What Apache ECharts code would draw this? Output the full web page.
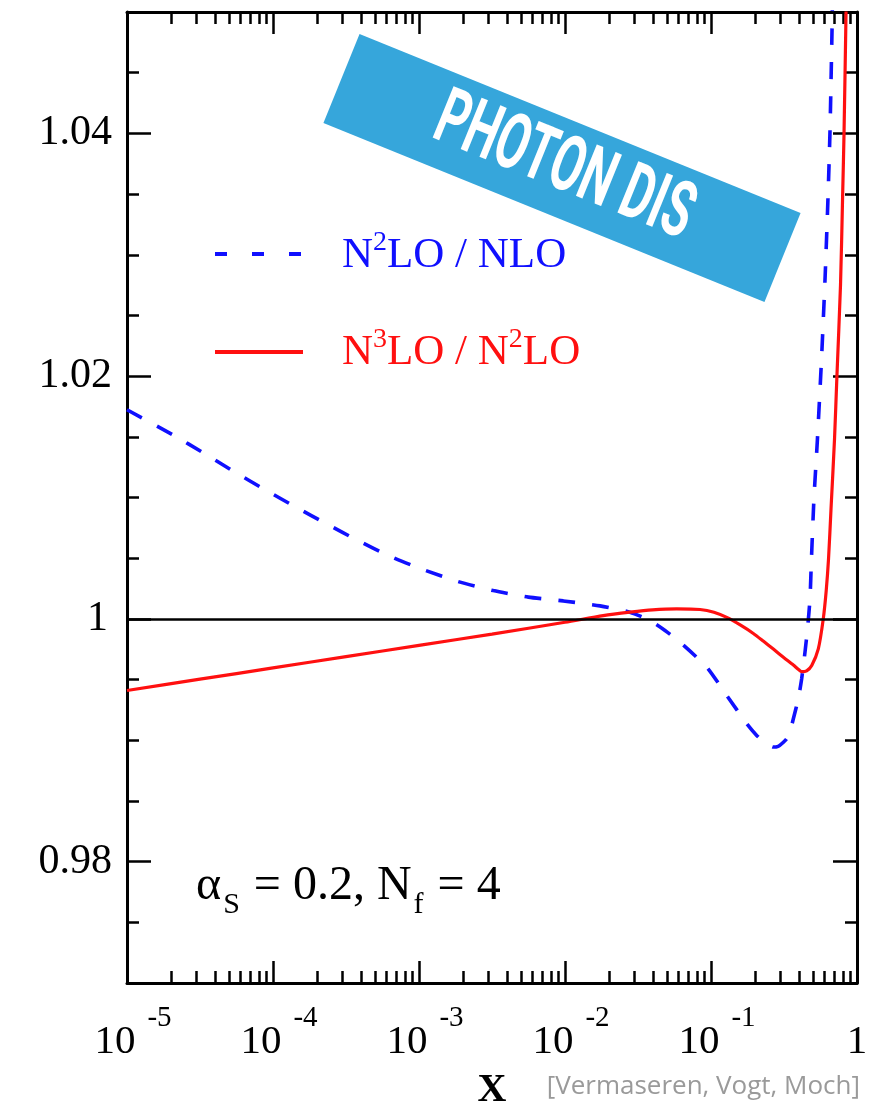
<!DOCTYPE html>
<html>
<head>
<meta charset="utf-8">
<script src="https://cdn.jsdelivr.net/npm/echarts@6/dist/echarts.min.js"></script>
<style>
  html, body { margin: 0; padding: 0; background: #ffffff; }
  #chart { width: 883px; height: 1104px; }
</style>
</head>
<body>
<div id="chart"></div>
<script>
// x is stored as log10(x); the axis runs over the exponent from -5 to 0.
const nloLogX = [-5.000, -4.683, -4.477, -4.272, -4.066, -3.849, -3.632, -3.416, -3.199, -2.971,
  -2.731, -2.491, -2.251, -2.012, -1.760, -1.555, -1.418, -1.315, -1.212, -1.029,
  -0.892, -0.755, -0.687, -0.630, -0.573, -0.540, -0.516, -0.482, -0.455, -0.436,
  -0.402, -0.379, -0.356, -0.339, -0.322, -0.312, -0.295, -0.271, -0.243, -0.219,
  -0.199, -0.185, -0.171, -0.168];
const nloRatio = [1.01723, 1.01514, 1.01368, 1.01217, 1.01072, 1.00924, 1.00782, 1.00644, 1.00516, 1.00406,
  1.00307, 1.00233, 1.00179, 1.00148, 1.00107, 1.00055, 0.99986, 0.99904, 0.99808, 0.99602,
  0.99369, 0.99136, 0.99040, 0.98980, 0.98944, 0.98950, 0.98971, 0.99012, 0.99090, 0.99177,
  0.99342, 0.99506, 0.99728, 0.99918, 1.00165, 1.00494, 1.00988, 1.01481, 1.02140, 1.02798,
  1.03457, 1.04016, 1.04856, 1.05100];

const n3loLogX = [-5.000, -4.500, -4.000, -3.500, -3.000, -2.500, -2.000, -1.738, -1.555, -1.400,
  -1.235, -1.075, -0.980, -0.892, -0.800, -0.710, -0.640, -0.573, -0.500, -0.436,
  -0.400, -0.379, -0.345, -0.310, -0.265, -0.231, -0.211, -0.195, -0.178, -0.154,
  -0.137, -0.113, -0.099, -0.089, -0.075];
const n3loRatio = [0.99410, 0.99503, 0.99596, 0.99689, 0.99782, 0.99875, 0.99972, 1.00027, 1.00055, 1.00074,
  1.00082, 1.00077, 1.00055, 1.00012, 0.99950, 0.99880, 0.99815, 0.99751, 0.99680, 0.99620,
  0.99582, 0.99565, 0.99572, 0.99616, 0.99753, 1.00000, 1.00230, 1.00494, 1.00905, 1.01481,
  1.02016, 1.02749, 1.03457, 1.03992, 1.05004];

const xDecadeExponents = [-5, -4, -3, -2, -1, 0];
const yLabelValues = [0.98, 1.00, 1.02, 1.04];
const yRange = [0.97, 1.05];
const referenceLevel = 1;

const SERIF = '"Liberation Serif", "Times New Roman", serif';
const BLUE = '#1010ff';
const RED = '#ff1010';

// minor ticks at 2..9 x 10^n, expressed in log10 units
const xMinorTicks = [];
for (let d = xDecadeExponents[0]; d < xDecadeExponents[xDecadeExponents.length - 1]; d++) {
  for (let k = 2; k <= 9; k++) xMinorTicks.push(d + Math.log10(k));
}

const zip = (xs, ys) => xs.map((x, i) => [x, ys[i]]);

const frameLine = { show: true, onZero: false, lineStyle: { color: '#000', width: 3 } };
const noLine = { show: false, onZero: false };

function xAxisDef(position, major, showLabels) {
  return {
    type: 'value', position: position, gridIndex: 0,
    min: xDecadeExponents[0], max: xDecadeExponents[xDecadeExponents.length - 1], interval: 1,
    axisLine: major ? frameLine : noLine,
    splitLine: { show: false },
    axisTick: major
      ? { show: true, inside: true, length: 22, lineStyle: { color: '#000', width: 2.5 } }
      : { show: true, inside: true, length: 12, customValues: xMinorTicks, lineStyle: { color: '#000', width: 2.5 } },
    axisLabel: showLabels ? {
      show: true, margin: 20,
      formatter: v => (v === 0 ? '{one|1}' : '{b|10}{s|' + v + '}'),
      rich: {
        b: { fontFamily: SERIF, fontSize: 41, color: '#000', verticalAlign: 'top', padding: [19, 0, 0, 12] },
        one: { fontFamily: SERIF, fontSize: 41, color: '#000', verticalAlign: 'top', padding: [19, 0, 0, 0] },
        s: { fontFamily: SERIF, fontSize: 29, color: '#000', verticalAlign: 'top', padding: [1, 0, 0, 12] }
      }
    } : { show: false },
    name: showLabels ? 'X' : '',
    nameLocation: 'middle', nameGap: 88,
    nameTextStyle: { fontFamily: SERIF, fontWeight: 'bold', fontSize: 40, color: '#000' }
  };
}

function yAxisDef(position, major, showLabels) {
  return {
    type: 'value', position: position, gridIndex: 0,
    min: yRange[0], max: yRange[1], interval: 0.005,
    axisLine: major ? noLine : frameLine,
    splitLine: { show: false },
    axisTick: major
      ? { show: true, inside: true, length: 24, customValues: yLabelValues, lineStyle: { color: '#000', width: 2.5 } }
      : { show: true, inside: true, length: 12, lineStyle: { color: '#000', width: 2.5 } },
    axisLabel: showLabels ? {
      show: true, margin: 15, customValues: yLabelValues,
      formatter: v => (Math.abs(v - 1) < 1e-9 ? '{one|1}' : '{t|' + v.toFixed(2) + '}'),
      rich: {
        t: { fontFamily: SERIF, fontSize: 42, color: '#000' },
        one: { fontFamily: SERIF, fontSize: 42, color: '#000', padding: [0, 4, 0, 0] }
      }
    } : { show: false }
  };
}

const legendRich = {
  n: { fontFamily: SERIF, fontSize: 43, verticalAlign: 'top', padding: [5, 0, 0, 0] },
  s: { fontFamily: SERIF, fontSize: 28, verticalAlign: 'top' }
};

const option = {
  animation: false,
  backgroundColor: '#ffffff',
  grid: { left: 127, right: 26, top: 12, bottom: 121, containLabel: false, outerBoundsMode: 'none' },
  xAxis: [
    xAxisDef('bottom', true, true),
    xAxisDef('bottom', false, false),
    xAxisDef('top', true, false),
    xAxisDef('top', false, false)
  ],
  yAxis: [
    yAxisDef('left', false, true),
    yAxisDef('left', true, false),
    yAxisDef('right', false, false),
    yAxisDef('right', true, false)
  ],
  series: [
    {
      name: 'N2LO/NLO', type: 'line', xAxisIndex: 0, yAxisIndex: 0,
      data: zip(nloLogX, nloRatio),
      symbol: 'none', showSymbol: false, smooth: 0.2, clip: true, z: 3,
      lineStyle: { color: BLUE, width: 3.6, type: [17, 17], cap: 'butt' }
    },
    {
      name: 'N3LO/N2LO', type: 'line', xAxisIndex: 0, yAxisIndex: 0,
      data: zip(n3loLogX, n3loRatio),
      symbol: 'none', showSymbol: false, smooth: 0.25, clip: true, z: 4,
      lineStyle: { color: RED, width: 3.2 },
      markLine: {
        silent: true, symbol: 'none', animation: false,
        label: { show: false },
        lineStyle: { color: '#000', width: 2.6, type: 'solid' },
        data: [{ yAxis: referenceLevel }]
      }
    }
  ],
  graphic: [
    // banner
    {
      type: 'group', x: 562, y: 168, rotation: -22.1 * Math.PI / 180, z: 10,
      children: [
        { type: 'rect', shape: { x: -238, y: -48, width: 476, height: 96 }, style: { fill: '#36A6DB' } },
        {
          type: 'text', x: 2, y: 1, scaleX: 0.6,
          style: { text: 'PHOTON DIS', fontFamily: 'Roboto', fontWeight: 'bold', fontSize: 78, fill: '#ffffff', align: 'center', verticalAlign: 'middle' }
        }
      ]
    },
    // legend keys
    { type: 'line', shape: { x1: 215, y1: 254, x2: 303, y2: 254 }, style: { stroke: BLUE, lineWidth: 4, lineDash: [12, 25] }, z: 10 },
    { type: 'line', shape: { x1: 215, y1: 352, x2: 303, y2: 352 }, style: { stroke: RED, lineWidth: 4 }, z: 10 },
    {
      type: 'text', x: 342, y: 229, z: 10,
      style: { text: '{n|N}{s|2}{n|LO / NLO}', rich: legendRich, fill: BLUE, align: 'left', verticalAlign: 'top' }
    },
    {
      type: 'text', x: 342, y: 326, z: 10,
      style: { text: '{n|N}{s|3}{n|LO / N}{s|2}{n|LO}', rich: legendRich, fill: RED, align: 'left', verticalAlign: 'top' }
    },
    // parameters
    {
      type: 'text', x: 196, y: 862, z: 10,
      style: {
        text: '{a|α}{b|S}{a| = 0.2, N}{b|f}{a| = 4}', fill: '#000', align: 'left', verticalAlign: 'top',
        rich: {
          a: { fontFamily: SERIF, fontSize: 48, verticalAlign: 'top' },
          b: { fontFamily: SERIF, fontSize: 30, verticalAlign: 'top', padding: [28, 2, 0, 2] }
        }
      }
    },
    // citation
    {
      type: 'text', x: 860, y: 1087, z: 10,
      style: { text: '[Vermaseren, Vogt, Moch]', fontFamily: '"Open Sans", Lato, sans-serif', fontSize: 26, fill: '#9a9a9a', align: 'right', verticalAlign: 'middle' }
    }
  ]
};

const chart = echarts.init(document.getElementById('chart'), null, { renderer: 'canvas' });
chart.setOption(option);
</script>
</body>
</html>
